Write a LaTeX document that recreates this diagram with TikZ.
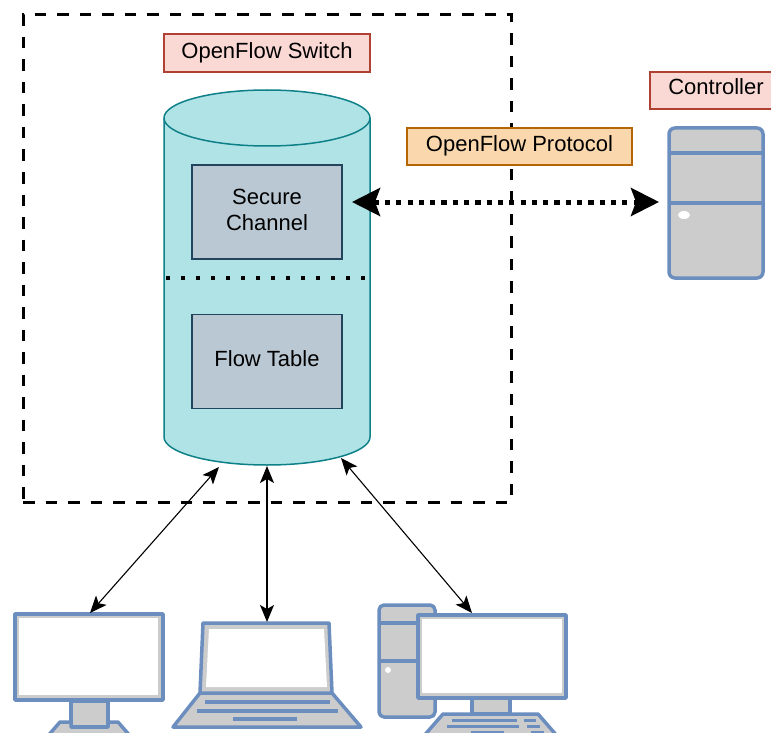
\documentclass[tikz,border=0pt]{standalone}
\usepackage{fontspec}
\setmainfont{Liberation Sans}
\usetikzlibrary{arrows.meta}
\definecolor{icon_blue}{HTML}{6C8EBF}
\definecolor{icon_gray}{HTML}{CCCCCC}
\definecolor{cyl_fill}{HTML}{B0E3E6}
\definecolor{cyl_draw}{HTML}{0E8088}
\definecolor{box_fill}{HTML}{BAC8D3}
\definecolor{box_draw}{HTML}{23445D}
\definecolor{red_fill}{HTML}{FAD9D5}
\definecolor{red_draw}{HTML}{AE4132}
\definecolor{orange_fill}{HTML}{FAD7AC}
\definecolor{orange_draw}{HTML}{B46504}
\tikzstyle{red_label} = [
    rectangle,
    draw=red_draw,
    fill=red_fill,
    line width=1.5pt,
    align=center,
    inner sep=0pt,
    font=\fontsize{22}{26}\selectfont
]
\tikzstyle{orange_label} = [
    red_label,
    draw=orange_draw,
    fill=orange_fill
]
\tikzstyle{gray_box} = [
    rectangle,
    draw=box_draw,
    fill=box_fill,
    line width=1.2pt,
    align=center,
    inner sep=0pt,
    minimum width=150pt,
    minimum height=94pt,
    font=\fontsize{22}{26}\selectfont
]
\tikzstyle{cyl_body} = [
    draw=cyl_draw,
    fill=cyl_fill,
    line width=1.5pt
]
\tikzstyle{icon} = [
    draw=icon_blue,
    fill=icon_gray,
    line width=3.5pt,
    line join=round
]
\tikzstyle{icon_line} = [
    draw=icon_blue,
    line width=3.5pt
]
\tikzstyle{thin_link} = [
    black,
    line width=1.1pt,
    {Stealth[length=17pt,width=14pt,inset=4pt]}-{Stealth[length=17pt,width=14pt,inset=4pt]}
]

\begin{document}
\begin{tikzpicture}[x=1pt, y=-1pt]
\useasboundingbox (0,0) rectangle (771,733);
\clip (0,0) rectangle (771,733);

% switch
\node [rectangle, draw=black, line width=3pt, dash pattern=on 11.5pt off 11pt,
    minimum width=488pt, minimum height=487pt, inner sep=0pt] (switch) at (267,258.5) {};
\node [red_label, minimum width=206pt, minimum height=38pt] (switch_label) at (267,53) {OpenFlow Switch};
\draw [cyl_body] (164,118) -- (164,437)
    arc [start angle=180, end angle=360, x radius=103pt, y radius=28pt] -- (370,118)
    arc [start angle=0, end angle=180, x radius=103pt, y radius=28pt] -- cycle;
\draw [cyl_body, fill=none] (164,118) arc [start angle=180, end angle=360, x radius=103pt, y radius=28pt];
\node [gray_box] (secure) at (267,212) {\raisebox{4.5pt}{Secure}\\\raisebox{4.5pt}{Channel}};
\node [gray_box] (flow) at (267,361.5) {\raisebox{5pt}{Flow Table}};
\coordinate (cyl_left) at (166,277.5);
\coordinate (cyl_right) at (366,277.5);
\draw [black, line width=4pt, dash pattern=on 4pt off 11pt] (cyl_left) -- (cyl_right);

% controller
\node [red_label, minimum width=132pt, minimum height=37pt] (controller_label) at (716,90.5) {};
\node [font=\fontsize{22}{26}\selectfont, inner sep=0pt] (controller_text) at (716,87) {Controller};
\node [icon, rectangle, rounded corners=6pt, minimum width=94pt, minimum height=150pt, inner sep=0pt] (controller) at (716,203) {};
\draw [icon_line] (669,153) -- (763,153);
\draw [icon_line] (669,203) -- (763,203);
\fill [white] (684,215) ellipse (6pt and 4pt);

% protocol
\node [orange_label, minimum width=225pt, minimum height=37pt] (protocol) at (519.5,146.5) {};
\node [font=\fontsize{22}{26}\selectfont, inner sep=0pt] (protocol_text) at (519.5,146) {OpenFlow Protocol};
\coordinate (chan_end) at (352,202);
\coordinate (ctrl_end) at (659,202);
\draw [black, line width=5pt, dash pattern=on 5.2pt off 6.1pt,
    {Stealth[length=28pt,width=28pt,inset=5pt]}-{Stealth[length=28pt,width=28pt,inset=5pt]}] (chan_end) -- (ctrl_end);

% monitor
\draw [icon] (71,701) rectangle (108,727);
\draw [icon] (40,745) -- (60,722) -- (71,722) -- (71,727) -- (108,727) -- (108,722) -- (118,722) -- (138,745) -- cycle;
\node [icon, rectangle, minimum width=148pt, minimum height=86pt, inner sep=0pt] (monitor) at (89,657) {};
\fill [white] (19,618) rectangle (158,695);

% laptop
\draw [icon] (200,693) -- (332,693) -- (361,727) -- (173,727) -- cycle;
\draw [icon] (203,623) -- (329,623) -- (332,693) -- (200,693) -- cycle;
\fill [white] (209,629) -- (324,629) -- (327,687) -- (206,687) -- cycle;
\draw [icon_line] (205,702) -- (330,702);
\draw [icon_line] (197,711) -- (338,711);
\draw [icon_line] (233,719) -- (297,719);

% desktop
\node [icon, rectangle, rounded corners=5pt, minimum width=56pt, minimum height=112pt, inner sep=0pt] (tower) at (407,661) {};
\draw [icon_line] (379,623) -- (418,623);
\draw [icon_line] (379,661) -- (418,661);
\fill [white] (388,670) circle (3pt);
\draw [icon] (472,698) rectangle (510,714);
\draw [icon] (443,714) -- (538,714) -- (565,745) -- (416,745) -- cycle;
\node [icon, rectangle, minimum width=148pt, minimum height=83pt, inner sep=0pt] (desktop) at (492,656.5) {};
\fill [white] (422,619) rectangle (562,693);
\draw [icon_line, line width=3pt] (452,720) -- (517,720);
\draw [icon_line, line width=3pt] (524,720) -- (536,720);
\draw [icon_line, line width=3pt] (447,726) -- (519,726);
\draw [icon_line, line width=3pt] (527,726) -- (540,726);
\draw [icon_line, line width=3pt] (471,732) -- (504,732);
\draw [icon_line, line width=3pt] (531,732) -- (544,732);

% links
\coordinate (cyl_a) at (219,467);
\coordinate (cyl_b) at (267,466);
\coordinate (cyl_c) at (341,458);
\coordinate (monitor_end) at (90,613);
\coordinate (laptop_end) at (267,622);
\coordinate (desktop_end) at (472,613);
\draw [thin_link] (cyl_a) -- (monitor_end);
\draw [thin_link, line width=1.5pt] (cyl_b) -- (laptop_end);
\draw [thin_link] (cyl_c) -- (desktop_end);
\end{tikzpicture}
\end{document}
